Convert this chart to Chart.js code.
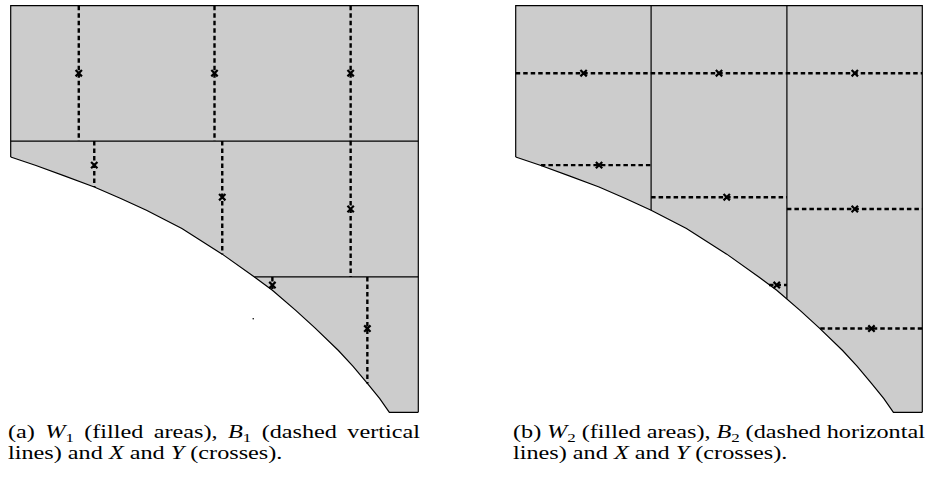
<!DOCTYPE html>
<html>
<head>
<meta charset="utf-8">
<script src="https://cdn.jsdelivr.net/npm/chart.js@4.4.1/dist/chart.umd.min.js"></script>
<style>
    body { margin: 0; background: #fff; width: 928px; height: 477px; overflow: hidden; position: relative; }
    .panel { position: absolute; top: -1px; height: 420px; }
    #boxW1 { left: 4px; width: 421px; }
    #boxW2 { left: 509px; width: 420px; }
    .cap { position: absolute; top: 422px; font-family: "Liberation Serif", serif; font-size: 19px; line-height: 20.5px; color: #000; transform-origin: 0 0; white-space: nowrap; }
    #capA { left: 8px; }
    #capB { left: 513px; }
    .l1 { display: flex; justify-content: space-between; }
    sub { font-size: 0.7em; vertical-align: -0.28em; line-height: 0; }
</style>
</head>
<body>

<div class="panel" id="boxW1"><canvas id="w1"></canvas></div>
<div class="panel" id="boxW2"><canvas id="w2"></canvas></div>

<div class="cap" id="capA">
    <div class="l1"><span>(a)</span><span><i>W</i><sub>1</sub></span><span>(filled</span><span>areas),</span><span><i>B</i><sub>1</sub></span><span>(dashed</span><span>vertical</span></div>
    <div class="l2"><span>lines) and <i>X</i> and <i>Y</i> (crosses).</span></div>
</div>
<div class="cap" id="capB">
    <div class="l1"><span>(b)</span><span><i>W</i><sub>2</sub></span><span>(filled</span><span>areas),</span><span><i>B</i><sub>2</sub></span><span>(dashed</span><span>horizontal</span></div>
    <div class="l2"><span>lines) and <i>X</i> and <i>Y</i> (crosses).</span></div>
</div>

<script>
// lower boundary curve (same in both panels)
const curveX = [0, 0.062, 0.130, 0.205, 0.270, 0.333, 0.420, 0.519, 0.598, 0.642, 0.700, 0.747, 0.804, 0.840, 0.875, 0.905, 0.929];
const curveY = [0.628, 0.607, 0.582, 0.554, 0.526, 0.497, 0.452, 0.389, 0.333, 0.300, 0.250, 0.207, 0.152, 0.113, 0.071, 0.034, 0];

// X and Y (crosses), same in both panels
const crossX = [0.167, 0.500, 0.834, 0.205, 0.519, 0.834, 0.642, 0.875];
const crossY = [0.834, 0.834, 0.834, 0.608, 0.529, 0.500, 0.313, 0.206];

// W1: horizontal cell borders (y, from x, to x)
const w1CutY = [0.667, 0.333];
const w1CutFrom = [0, 0.598];
const w1CutTo = [1, 1];

// B1: dashed vertical lines (x, bottom, top)
const b1X = [0.167, 0.500, 0.834, 0.205, 0.519, 0.834, 0.642, 0.875];
const b1Bottom = [0.667, 0.667, 0.667, 0.554, 0.389, 0.333, 0.300, 0.071];
const b1Top = [1, 1, 1, 0.667, 0.667, 0.667, 0.333, 0.333];

// W2: vertical cell borders (x, bottom, top)
const w2CutX = [0.333, 0.667];
const w2CutFrom = [0.497, 0.279];
const w2CutTo = [1, 1];

// B2: dashed horizontal lines (y, from x, to x)
const b2Y = [0.834, 0.608, 0.529, 0.500, 0.313, 0.206];
const b2From = [0, 0.062, 0.333, 0.667, 0.623, 0.749];
const b2To = [1, 0.333, 0.667, 1, 0.667, 1];

// the little stray dot in panel (a)
const dotX = [0.595];
const dotY = [0.230];

function pts(xs, ys) {
    return xs.map((x, i) => ({ x: x, y: ys[i] }));
}

function solid(data) {
    return { data: data, borderColor: '#000', borderWidth: 1.2, pointRadius: 0, fill: false, clip: 6, order: 5 };
}

function dashed(data) {
    return { data: data, borderColor: '#000', borderWidth: 2.4, borderDash: [4.5, 3], pointRadius: 0, fill: false, clip: 6, order: 4 };
}

function region() {
    const lower = pts(curveX, curveY).concat([{ x: 1, y: 0 }]);
    const frame = [{ x: 0, y: curveY[0] }, { x: 0, y: 1 }, { x: 1, y: 1 }, { x: 1, y: 0 }];
    return [
        { data: lower, fill: 'end', backgroundColor: '#cccccc', borderColor: '#000', borderWidth: 1.2, pointRadius: 0, clip: 6, order: 9 },
        solid(frame)
    ];
}

function crosses() {
    return {
        data: pts(crossX, crossY), showLine: false, fill: false,
        pointStyle: 'crossRot', pointRadius: 4.5, pointBorderWidth: 2.2,
        pointBorderColor: '#000', pointBackgroundColor: '#000', clip: 6, order: 0
    };
}

function makeChart(id, datasets) {
    new Chart(document.getElementById(id), {
        type: 'line',
        data: { datasets: datasets },
        options: {
            responsive: true,
            maintainAspectRatio: false,
            animation: false,
            events: [],
            layout: { padding: 4 },
            elements: { line: { tension: 0 } },
            scales: {
                x: { type: 'linear', min: 0, max: 1, display: false },
                y: { type: 'linear', min: 0, max: 1, display: false }
            },
            plugins: {
                legend: { display: false },
                tooltip: { enabled: false },
                filler: { drawTime: 'beforeDatasetsDraw' }
            }
        }
    });
}

/////////////////// Panel (a) ///////////////////
const setsA = region();
w1CutY.forEach((y, i) => setsA.push(solid([{ x: w1CutFrom[i], y: y }, { x: w1CutTo[i], y: y }])));
b1X.forEach((x, i) => setsA.push(dashed([{ x: x, y: b1Top[i] }, { x: x, y: b1Bottom[i] }])));
setsA.push({ data: pts(dotX, dotY), showLine: false, pointRadius: 0.8, pointBorderWidth: 0, pointBackgroundColor: '#000', order: 1 });
setsA.push(crosses());
makeChart('w1', setsA);

/////////////////// Panel (b) ///////////////////
const setsB = region();
w2CutX.forEach((x, i) => setsB.push(solid([{ x: x, y: w2CutFrom[i] }, { x: x, y: w2CutTo[i] }])));
b2Y.forEach((y, i) => setsB.push(dashed([{ x: b2From[i], y: y }, { x: b2To[i], y: y }])));
setsB.push(crosses());
makeChart('w2', setsB);

// stretch captions so the second line matches the reference width
function fitCaption(id) {
    const cap = document.getElementById(id);
    const line2 = cap.querySelector('.l2 span');
    const s = 274 / line2.offsetWidth;
    cap.style.width = (412 / s) + 'px';
    cap.style.transform = 'scaleX(' + s + ')';
}
fitCaption('capA');
fitCaption('capB');
</script>
</body>
</html>
